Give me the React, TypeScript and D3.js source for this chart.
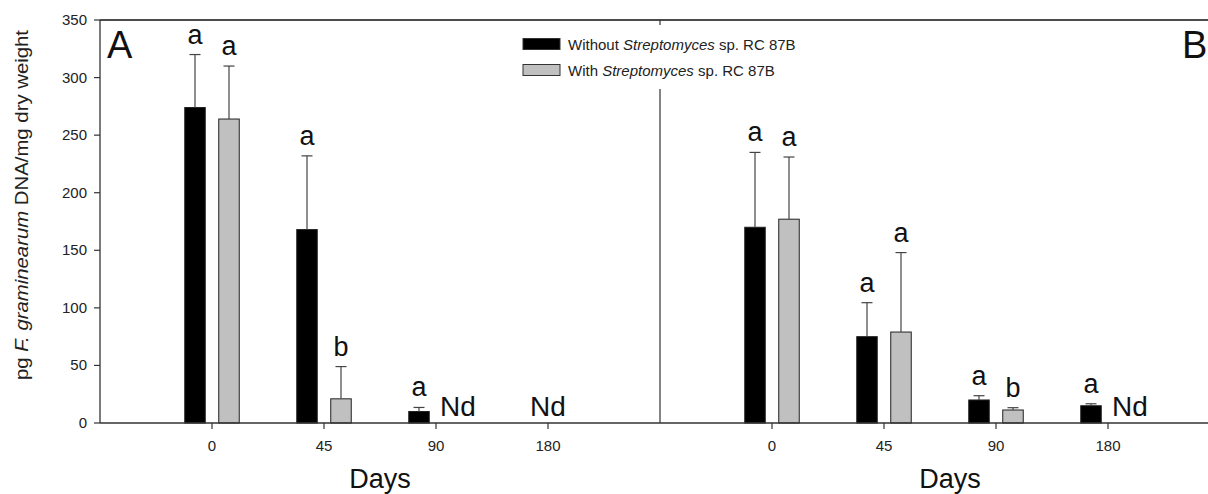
import React from "react";
import * as d3 from "d3";

const days = ["0", "45", "90", "180"];

// Panel A
const aWithout = [274, 168, 10, null];
const aWithoutSD = [46, 64, 3.5, null];
const aWith = [264, 21, null, null];
const aWithSD = [46, 28, null, null];
const aWithoutLetters = ["a", "a", "a", ""];
const aWithLetters = ["a", "b", "", ""];

// Panel B
const bWithout = [170, 75, 20, 15];
const bWithoutSD = [65, 29.5, 3.7, 1.7];
const bWith = [177, 79, 11.3, null];
const bWithSD = [54, 69, 2, null];
const bWithoutLetters = ["a", "a", "a", "a"];
const bWithLetters = ["a", "a", "b", ""];

const yTicks = [0, 50, 100, 150, 200, 250, 300, 350];
const legendLabels = ["Without", "With"];

const FONT = "'Liberation Sans', Arial, Helvetica, sans-serif";
const W = 1208;
const H = 494;

const y = d3.scaleLinear().domain([0, 350]).range([423, 20]);
const xA = d3.scalePoint<string>().domain(days).range([100, 660]).padding(1);
const xB = d3.scalePoint<string>().domain(days).range([660, 1220]).padding(1);

const OFF = 17;
const BW = 20.5;
const axisColor = "#333";
const GRAY = "#c0c0c0";

type Panel = {
  x: d3.ScalePoint<string>;
  without: (number | null)[];
  withoutSD: (number | null)[];
  withv: (number | null)[];
  withSD: (number | null)[];
  wl: string[];
  gl: string[];
  label: string;
  labelX: number;
  daysX: number;
};

const panels: Panel[] = [
  { x: xA, without: aWithout, withoutSD: aWithoutSD, withv: aWith, withSD: aWithSD, wl: aWithoutLetters, gl: aWithLetters, label: "A", labelX: 107, daysX: 380 },
  { x: xB, without: bWithout, withoutSD: bWithoutSD, withv: bWith, withSD: bWithSD, wl: bWithoutLetters, gl: bWithLetters, label: "B", labelX: 1182, daysX: 950 },
];

function Bar({ cx, v, sd, fill, letter }: { cx: number; v: number; sd: number | null; fill: string; letter: string }) {
  const top = y(v);
  const et = sd != null ? y(v + sd) : top;
  return (
    <g>
      <rect x={cx - BW / 2} y={top} width={BW} height={y(0) - top} fill={fill} stroke="#222" strokeWidth={1} />
      {sd != null && (
        <g stroke="#444" strokeWidth={1.2}>
          <line x1={cx} x2={cx} y1={top} y2={et} />
          <line x1={cx - 5.5} x2={cx + 5.5} y1={et} y2={et} />
        </g>
      )}
      {letter && (
        <text x={cx} y={et - 11} textAnchor="middle" fontSize={27} fill="#111">
          {letter}
        </text>
      )}
    </g>
  );
}

export default function App() {
  return (
    <svg width={W} height={H} style={{ position: "absolute", left: 0, top: 0, background: "#fff" }} fontFamily={FONT}>
      <rect x={0} y={0} width={W} height={H} fill="#fff" />
      {/* top line */}
      <line x1={100} x2={W} y1={20} y2={20} stroke="#111" strokeWidth={1.5} />
      {/* divider */}
      <line x1={660} x2={660} y1={20} y2={423} stroke={axisColor} strokeWidth={1.2} />
      {/* y axis */}
      <line x1={100} x2={100} y1={20} y2={423} stroke={axisColor} strokeWidth={1.3} />
      {yTicks.map((t) => (
        <g key={t}>
          <line x1={94} x2={100} y1={y(t)} y2={y(t)} stroke={axisColor} strokeWidth={1.2} />
          <text x={87} y={y(t) + 5} textAnchor="end" fontSize={15} fill="#222">
            {t}
          </text>
        </g>
      ))}
      <text
        transform={`translate(28,205) rotate(-90)`}
        textAnchor="middle"
        fontSize={17.5}
        fill="#222"
        textLength={350}
        lengthAdjust="spacingAndGlyphs"
      >
        pg <tspan fontStyle="italic">F. graminearum</tspan> DNA/mg dry weight
      </text>

      {panels.map((p, pi) => (
        <g key={pi}>
          {days.map((d, i) => {
            const c = p.x(d)!;
            const wv = p.without[i];
            const gv = p.withv[i];
            return (
              <g key={d}>
                {wv != null && <Bar cx={c - OFF} v={wv} sd={p.withoutSD[i]} fill="#000" letter={p.wl[i]} />}
                {gv != null && <Bar cx={c + OFF} v={gv} sd={p.withSD[i]} fill={GRAY} letter={p.gl[i]} />}
                {gv == null && wv == null && (
                  <text x={c} y={416} textAnchor="middle" fontSize={28} fill="#111">Nd</text>
                )}
                {gv == null && wv != null && (
                  <text x={c + 4} y={416} textAnchor="start" fontSize={28} fill="#111">Nd</text>
                )}
                <line x1={c} x2={c} y1={423} y2={429} stroke={axisColor} strokeWidth={1.2} />
                <text x={c} y={451} textAnchor="middle" fontSize={15} fill="#222">{d}</text>
              </g>
            );
          })}
          <text x={p.labelX} y={57.5} fontSize={38} fill="#111">{p.label}</text>
          <text x={p.daysX} y={488} textAnchor="middle" fontSize={27} fill="#111">Days</text>
        </g>
      ))}

      {/* bottom axis */}
      <line x1={100} x2={W} y1={423} y2={423} stroke={axisColor} strokeWidth={1.5} />

      {/* legend */}
      <rect x={515} y={25} width={300} height={64} fill="#fff" />
      {legendLabels.map((l, i) => (
        <g key={l}>
          <rect x={523} y={38.5 + i * 26} width={37} height={11} fill={i === 0 ? "#000" : GRAY} stroke="#333" strokeWidth={1} />
          <text x={568} y={49.5 + i * 26} fontSize={15} fill="#222">
            {l} <tspan fontStyle="italic">Streptomyces</tspan> sp. RC 87B
          </text>
        </g>
      ))}
    </svg>
  );
}
